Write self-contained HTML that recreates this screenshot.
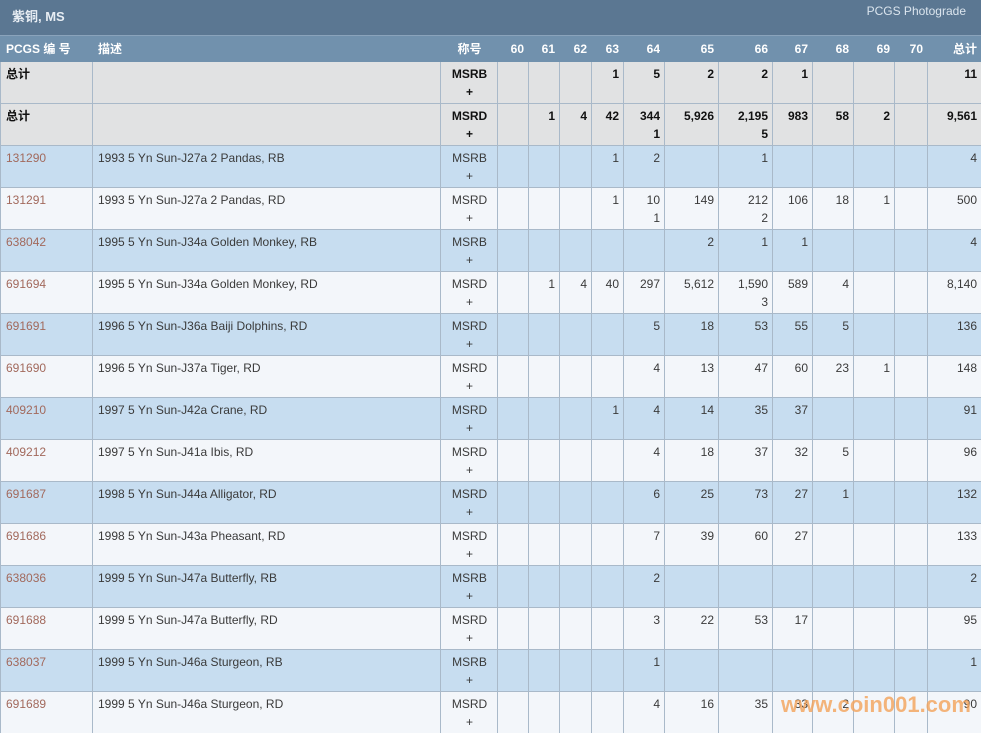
<!DOCTYPE html>
<html><head><meta charset="utf-8"><style>
html,body{margin:0;padding:0;width:981px;height:733px;overflow:hidden;background:#f3f6fa}
body{font-family:"Liberation Sans","Noto Sans CJK SC",sans-serif;font-size:12px;color:#3a3a3a;position:relative}
.top{position:absolute;left:0;top:0;width:981px;height:35px;background:#5b7792;border-bottom:1px solid #8aa3bb}
.top .t{position:absolute;left:12px;top:6px;color:#e8eef4;font-weight:bold;font-size:13px}
.top .r{position:absolute;right:15px;top:4px;color:#dbe5ee;font-size:12px}
table{position:absolute;left:0;top:36px;border-collapse:collapse;table-layout:fixed;width:981px}
td,th{border:1px solid #a9b9c9;padding:3px 4px 0 5px;vertical-align:top;line-height:18px;text-align:right;overflow:hidden;white-space:nowrap}
th{background:#7191ad;color:#fff;font-weight:bold;height:21px;border-color:#7191ad;padding-top:3px}
tr.d td{height:38px}
td:first-child,td:nth-child(2),th:first-child,th:nth-child(2){text-align:left}
td:nth-child(3),th:nth-child(3){text-align:center}
tr.g td{background:#e1e2e3;font-weight:bold;color:#111}
tr.b td{background:#c7ddf0}
tr.w td{background:#f3f6fa}
td.l{color:#a2695c}
.wm{position:absolute;left:781px;top:692px;font-size:22px;font-weight:bold;color:#f4a35a;opacity:.8;letter-spacing:0}
</style></head><body>
<div class="top"><span class="t">紫铜, MS</span><span class="r">PCGS Photograde</span></div>
<table>
<colgroup><col style="width:92px"><col style="width:348px"><col style="width:57px"><col style="width:31px"><col style="width:31px"><col style="width:32px"><col style="width:32px"><col style="width:41px"><col style="width:54px"><col style="width:54px"><col style="width:40px"><col style="width:41px"><col style="width:41px"><col style="width:33px"><col style="width:54px"></colgroup>
<tr><th>PCGS 编 号</th><th>描述</th><th>称号</th><th>60</th><th>61</th><th>62</th><th>63</th><th>64</th><th>65</th><th>66</th><th>67</th><th>68</th><th>69</th><th>70</th><th>总计</th></tr>
<tr class="d g"><td>总计</td><td></td><td>MSRB<br>+</td><td></td><td></td><td></td><td>1</td><td>5</td><td>2</td><td>2</td><td>1</td><td></td><td></td><td></td><td>11</td></tr>
<tr class="d g"><td>总计</td><td></td><td>MSRD<br>+</td><td></td><td>1</td><td>4</td><td>42</td><td>344<br>1</td><td>5,926</td><td>2,195<br>5</td><td>983</td><td>58</td><td>2</td><td></td><td>9,561</td></tr>
<tr class="d b"><td class="l">131290</td><td>1993 5 Yn Sun-J27a 2 Pandas, RB</td><td>MSRB<br>+</td><td></td><td></td><td></td><td>1</td><td>2</td><td></td><td>1</td><td></td><td></td><td></td><td></td><td>4</td></tr>
<tr class="d w"><td class="l">131291</td><td>1993 5 Yn Sun-J27a 2 Pandas, RD</td><td>MSRD<br>+</td><td></td><td></td><td></td><td>1</td><td>10<br>1</td><td>149</td><td>212<br>2</td><td>106</td><td>18</td><td>1</td><td></td><td>500</td></tr>
<tr class="d b"><td class="l">638042</td><td>1995 5 Yn Sun-J34a Golden Monkey, RB</td><td>MSRB<br>+</td><td></td><td></td><td></td><td></td><td></td><td>2</td><td>1</td><td>1</td><td></td><td></td><td></td><td>4</td></tr>
<tr class="d w"><td class="l">691694</td><td>1995 5 Yn Sun-J34a Golden Monkey, RD</td><td>MSRD<br>+</td><td></td><td>1</td><td>4</td><td>40</td><td>297</td><td>5,612</td><td>1,590<br>3</td><td>589</td><td>4</td><td></td><td></td><td>8,140</td></tr>
<tr class="d b"><td class="l">691691</td><td>1996 5 Yn Sun-J36a Baiji Dolphins, RD</td><td>MSRD<br>+</td><td></td><td></td><td></td><td></td><td>5</td><td>18</td><td>53</td><td>55</td><td>5</td><td></td><td></td><td>136</td></tr>
<tr class="d w"><td class="l">691690</td><td>1996 5 Yn Sun-J37a Tiger, RD</td><td>MSRD<br>+</td><td></td><td></td><td></td><td></td><td>4</td><td>13</td><td>47</td><td>60</td><td>23</td><td>1</td><td></td><td>148</td></tr>
<tr class="d b"><td class="l">409210</td><td>1997 5 Yn Sun-J42a Crane, RD</td><td>MSRD<br>+</td><td></td><td></td><td></td><td>1</td><td>4</td><td>14</td><td>35</td><td>37</td><td></td><td></td><td></td><td>91</td></tr>
<tr class="d w"><td class="l">409212</td><td>1997 5 Yn Sun-J41a Ibis, RD</td><td>MSRD<br>+</td><td></td><td></td><td></td><td></td><td>4</td><td>18</td><td>37</td><td>32</td><td>5</td><td></td><td></td><td>96</td></tr>
<tr class="d b"><td class="l">691687</td><td>1998 5 Yn Sun-J44a Alligator, RD</td><td>MSRD<br>+</td><td></td><td></td><td></td><td></td><td>6</td><td>25</td><td>73</td><td>27</td><td>1</td><td></td><td></td><td>132</td></tr>
<tr class="d w"><td class="l">691686</td><td>1998 5 Yn Sun-J43a Pheasant, RD</td><td>MSRD<br>+</td><td></td><td></td><td></td><td></td><td>7</td><td>39</td><td>60</td><td>27</td><td></td><td></td><td></td><td>133</td></tr>
<tr class="d b"><td class="l">638036</td><td>1999 5 Yn Sun-J47a Butterfly, RB</td><td>MSRB<br>+</td><td></td><td></td><td></td><td></td><td>2</td><td></td><td></td><td></td><td></td><td></td><td></td><td>2</td></tr>
<tr class="d w"><td class="l">691688</td><td>1999 5 Yn Sun-J47a Butterfly, RD</td><td>MSRD<br>+</td><td></td><td></td><td></td><td></td><td>3</td><td>22</td><td>53</td><td>17</td><td></td><td></td><td></td><td>95</td></tr>
<tr class="d b"><td class="l">638037</td><td>1999 5 Yn Sun-J46a Sturgeon, RB</td><td>MSRB<br>+</td><td></td><td></td><td></td><td></td><td>1</td><td></td><td></td><td></td><td></td><td></td><td></td><td>1</td></tr>
<tr class="d w"><td class="l">691689</td><td>1999 5 Yn Sun-J46a Sturgeon, RD</td><td>MSRD<br>+</td><td></td><td></td><td></td><td></td><td>4</td><td>16</td><td>35</td><td>33</td><td>2</td><td></td><td></td><td>90</td></tr>
</table>
<div class="wm">www.coin001.com</div>
</body></html>
